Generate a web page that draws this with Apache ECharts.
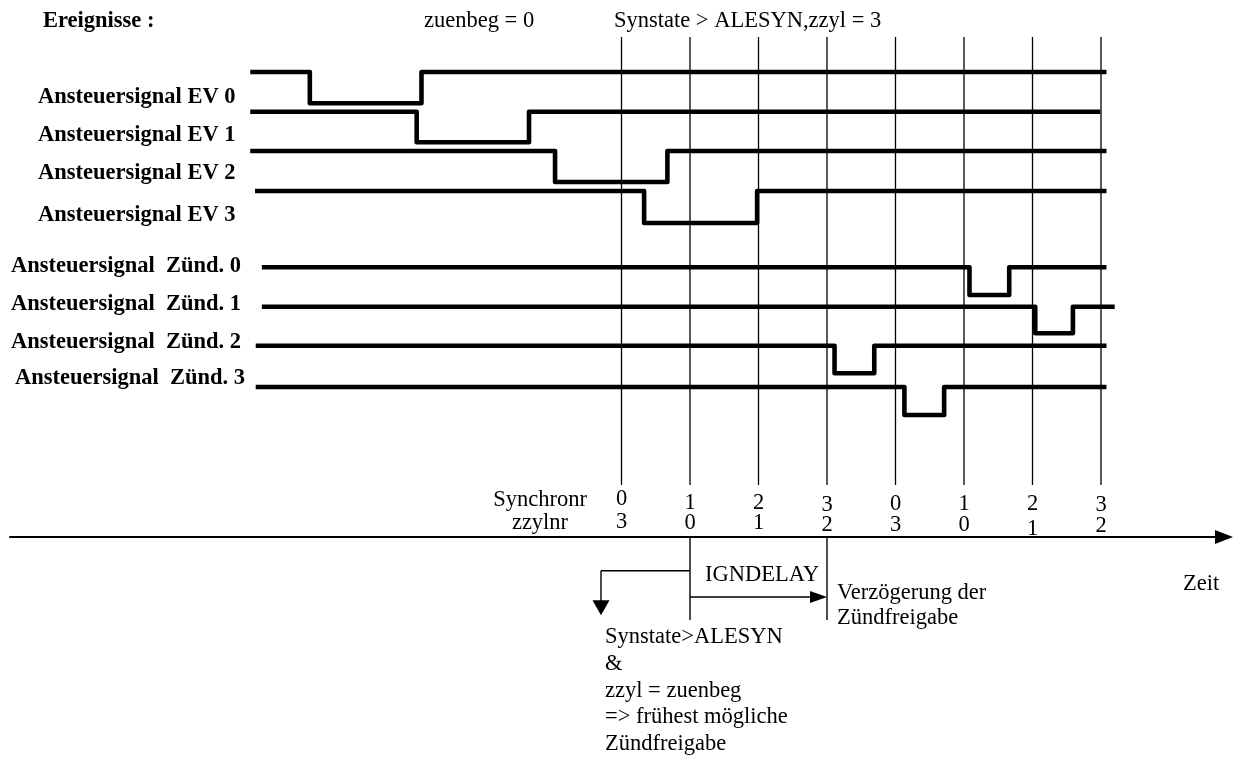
<!DOCTYPE html>
<html><head><meta charset="utf-8">
<script src="https://cdn.jsdelivr.net/npm/echarts@6/dist/echarts.min.js"></script>
<style>html,body{margin:0;padding:0;background:#fff}#c{width:1233px;height:760px}</style>
</head><body><div id="c"></div>
<script>
// ---------- DATA (time in sync periods, sync pulse 0 at t=0) ----------
const syncTimes = [0, 1, 2, 3, 4, 5, 6, 7];
const synchronrLabels = ['0', '1', '2', '3', '0', '1', '2', '3'];
const zzylnrLabels = ['3', '0', '1', '2', '3', '0', '1', '2'];

const signalNames = [
  'Ansteuersignal EV 0', 'Ansteuersignal EV 1', 'Ansteuersignal EV 2', 'Ansteuersignal EV 3',
  'Ansteuersignal  Zünd. 0', 'Ansteuersignal  Zünd. 1', 'Ansteuersignal  Zünd. 2', 'Ansteuersignal  Zünd. 3'
];
const signalStart = [-5.42, -5.42, -5.42, -5.35, -5.25, -5.25, -5.34, -5.34];
const signalFall  = [-4.55, -2.99, -0.97, 0.33, 5.08, 6.04, 3.11, 4.13];
const signalRise  = [-2.92, -1.35, 0.67, 1.98, 5.66, 6.59, 3.69, 4.71];
const signalEnd   = [7.08, 6.99, 7.08, 7.08, 7.08, 7.20, 7.08, 7.08];

const ignDelayFrom = 1;   // Synstate>ALESYN & zzyl = zuenbeg
const ignDelayTo = 3;     // Verzögerung der Zündfreigabe

const headerTexts = ['Ereignisse :', 'zuenbeg = 0', 'Synstate > ALESYN,zzyl = 3'];
const noteLines = ['Synstate>ALESYN', '&', 'zzyl = zuenbeg', '=> frühest mögliche', 'Zündfreigabe'];

// ---------- LAYOUT ----------
const W = 1233, H = 760;
const AXIS_PX = 537;           // pixel row of time axis
const T0_PX = 621.5, UNIT_PX = 68.5;
const GRID_L = 10, GRID_R = 9;
const xMin = (GRID_L - T0_PX) / UNIT_PX;
const xMax = (W - GRID_R - T0_PX) / UNIT_PX;
const v = p => AXIS_PX - p;    // pixel row -> y value
const rowHigh = [72, 111.7, 151, 191, 267.3, 306.7, 345.7, 387];
const rowLow  = [103.3, 142.3, 182, 223, 295, 333.3, 373.3, 415];
const labelX  = [38, 38, 38, 38, 11, 11, 11, 15];
const labelY  = [97, 135, 173, 215, 266, 304, 342, 378];
const synchY = [499, 503.5, 503, 505, 504, 504, 504, 505];
const zzylY  = [522, 523.5, 523.5, 525, 525, 525, 529, 526];
const FONT = '"Liberation Serif", "Times New Roman", serif';
const FS = 22.5;

const chart = echarts.init(document.getElementById('c'), null, {renderer: 'canvas'});

const signalSeries = signalNames.map((name, i) => ({
  type: 'line', name,
  data: [
    [signalStart[i], v(rowHigh[i])], [signalFall[i], v(rowHigh[i])],
    [signalFall[i], v(rowLow[i])], [signalRise[i], v(rowLow[i])],
    [signalRise[i], v(rowHigh[i])], [signalEnd[i], v(rowHigh[i])]
  ],
  showSymbol: false, symbol: 'none',
  lineStyle: {color: '#000', width: 4.6, join: 'round', cap: 'butt'},
  silent: true, z: 3
}));

const syncLineSeries = {
  type: 'custom', silent: true, z: 2,
  data: syncTimes.map(t => [t]),
  renderItem(params, api) {
    const t = api.value(0);
    const a = api.coord([t, v(37)]), b = api.coord([t, v(485)]);
    return {type: 'line', shape: {x1: a[0], y1: a[1], x2: b[0], y2: b[1]},
      style: {stroke: '#000', lineWidth: 1.3}};
  }
};

function textItem(text, x, y, align, bold) {
  return {type: 'text', x, y, style: {text, fill: '#000', align, verticalAlign: 'middle',
    font: (bold ? 'bold ' : '') + FS + 'px ' + FONT}};
}

const digitSeries = {
  type: 'custom', silent: true, z: 4,
  data: syncTimes.map((t, i) => [t, i]),
  renderItem(params, api) {
    const t = api.value(0), i = api.value(1);
    const a = api.coord([t, v(synchY[i])]), b = api.coord([t, v(zzylY[i])]);
    return {type: 'group', children: [
      textItem(synchronrLabels[i], a[0], a[1], 'center', false),
      textItem(zzylnrLabels[i], b[0], b[1], 'center', false)
    ]};
  }
};

const annotSeries = {
  type: 'custom', silent: true, z: 4,
  data: [[ignDelayFrom, ignDelayTo]],
  renderItem(params, api) {
    const f = api.value(0), to = api.value(1);
    const s = {stroke: '#000', lineWidth: 1.4, fill: null};
    const fTop = api.coord([f, v(AXIS_PX)]), fBot = api.coord([f, v(620)]);
    const tTop = api.coord([to, v(AXIS_PX)]), tBot = api.coord([to, v(620)]);
    const arr = api.coord([f, v(597)]), arrEnd = api.coord([to, v(597)]);
    const br = api.coord([f, v(570.7)]);
    const bx = br[0] - 89, by = br[1];
    const tipY = br[1] + 44.5;
    return {type: 'group', children: [
      {type: 'line', shape: {x1: fTop[0], y1: fTop[1], x2: fBot[0], y2: fBot[1]}, style: s},
      {type: 'line', shape: {x1: tTop[0], y1: tTop[1], x2: tBot[0], y2: tBot[1]}, style: s},
      {type: 'line', shape: {x1: arr[0], y1: arr[1], x2: arrEnd[0] - 14, y2: arr[1]}, style: s},
      {type: 'polygon', shape: {points: [[arrEnd[0], arr[1]], [arrEnd[0] - 17, arr[1] - 6], [arrEnd[0] - 17, arr[1] + 6]]},
        style: {fill: '#000'}},
      {type: 'line', shape: {x1: br[0], y1: by, x2: bx, y2: by}, style: s},
      {type: 'line', shape: {x1: bx, y1: by, x2: bx, y2: tipY - 14}, style: s},
      {type: 'polygon', shape: {points: [[bx, tipY], [bx - 8.5, tipY - 15], [bx + 8.5, tipY - 15]]},
        style: {fill: '#000'}}
    ]};
  }
};

const graphics = [
  textItem(headerTexts[0], 43, 21, 'left', true),
  textItem(headerTexts[1], 424, 21, 'left', false),
  textItem(headerTexts[2], 614, 21, 'left', false),
  textItem('Synchronr', 540, 500, 'center', false),
  textItem('zzylnr', 540, 523, 'center', false),
  textItem('IGNDELAY', 705, 575, 'left', false),
  textItem('Verzögerung der', 837, 593, 'left', false),
  textItem('Zündfreigabe', 837, 618, 'left', false),
  textItem('Zeit', 1183, 584, 'left', false)
];
signalNames.forEach((n, i) => graphics.push(textItem(n, labelX[i], labelY[i], 'left', true)));
noteLines.forEach((n, i) => graphics.push(textItem(n, 605, 637 + i * 26.8, 'left', false)));

chart.setOption({
  animation: false,
  backgroundColor: '#fff',
  grid: {left: GRID_L, right: GRID_R, top: 0, bottom: 0},
  xAxis: {
    type: 'value', min: xMin, max: xMax,
    axisLine: {show: true, onZero: true, symbol: ['none', 'triangle'], symbolSize: [14, 18],
      lineStyle: {color: '#000', width: 2}},
    axisTick: {show: false}, axisLabel: {show: false}, splitLine: {show: false}
  },
  yAxis: {
    type: 'value', min: v(H), max: v(0),
    axisLine: {show: false}, axisTick: {show: false}, axisLabel: {show: false}, splitLine: {show: false}
  },
  series: [syncLineSeries, ...signalSeries, digitSeries, annotSeries],
  graphic: graphics
});
</script></body></html>
